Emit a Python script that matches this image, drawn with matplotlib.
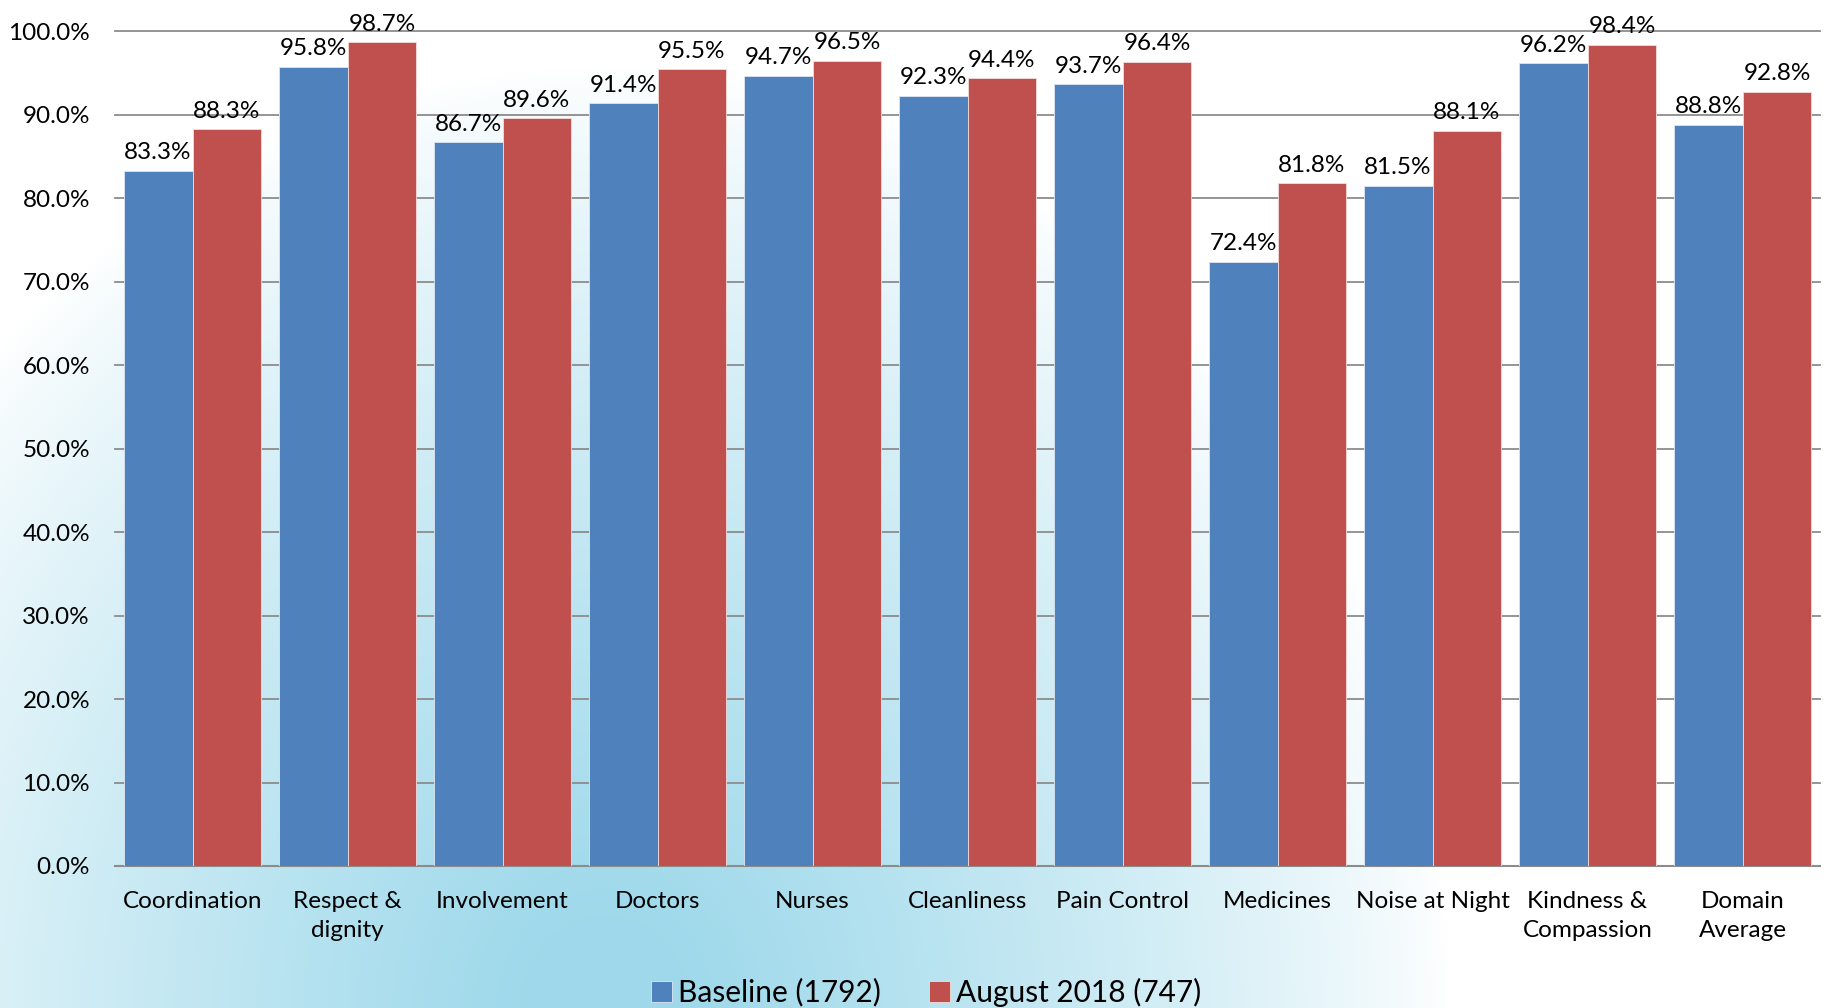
import matplotlib
matplotlib.use('Agg')
import matplotlib.pyplot as plt
import numpy as np

categories = ['Coordination', 'Respect &\ndignity', 'Involvement', 'Doctors', 'Nurses',
              'Cleanliness', 'Pain Control', 'Medicines', 'Noise at Night',
              'Kindness &\nCompassion', 'Domain\nAverage']
baseline = [83.3, 95.8, 86.7, 91.4, 94.7, 92.3, 93.7, 72.4, 81.5, 96.2, 88.8]
august = [88.3, 98.7, 89.6, 95.5, 96.5, 94.4, 96.4, 81.8, 88.1, 98.4, 92.8]
series_names = ['Baseline (1792)', 'August 2018 (747)']

plt.rcParams['font.family'] = ['Lato', 'DejaVu Sans']

fig = plt.figure(figsize=(18.27, 10.08), dpi=100)

# background wash: light blue at bottom left, fading to white top right
bg = fig.add_axes([0, 0, 1, 1], zorder=-10)
h, w = 252, 457
yy, xx = np.mgrid[0:h, 0:w]
d = np.sqrt(((xx - 0.33 * w) / (0.42 * w)) ** 2 + ((yy - h) / (0.85 * h)) ** 2)
t = np.clip(1.1 - d, 0, 1) ** 0.8
white = np.array([1.0, 1.0, 1.0])
blue = np.array([0.62, 0.85, 0.92])
img = white + (blue - white) * t[..., None]
bg.imshow(img, aspect='auto', extent=[0, 1, 0, 1], origin='upper')
bg.axis('off')

ax = fig.add_axes([115 / 1827, 1 - 866 / 1008, (1820 - 115) / 1827, (866 - 31.5) / 1008])
ax.patch.set_alpha(0)

x = np.arange(len(categories))
bw = 0.445
b1 = ax.bar(x - bw / 2, baseline, bw, color='#4f81bd', edgecolor='#dce6f2', linewidth=0.6,
            label=series_names[0], zorder=3)
b2 = ax.bar(x + bw / 2, august, bw, color='#c0504d', edgecolor='#f2dcdb', linewidth=0.6,
            label=series_names[1], zorder=3)

for bars, vals in ((b1, baseline), (b2, august)):
    for r, v in zip(bars, vals):
        ax.text(r.get_x() + r.get_width() / 2, v + 0.9, f'{v:.1f}%', ha='center', va='bottom',
                fontsize=17.5, color='black', zorder=4, clip_on=False)

ax.set_xlim(-0.5, len(categories) - 0.5)
ax.set_ylim(0, 100)
ax.set_yticks(np.arange(0, 101, 10))
ax.set_yticklabels([f'{v:.1f}%' for v in np.arange(0, 101, 10)], fontsize=17.5)
ax.set_xticks(x)
ax.set_xticklabels(categories, fontsize=17.5, linespacing=1.45)
ax.tick_params(axis='both', length=0)
ax.tick_params(axis='x', pad=18)
ax.tick_params(axis='y', pad=18)
ax.yaxis.grid(True, color='#8c8c8c', linewidth=1.3, zorder=0)
for gl in ax.get_ygridlines():
    gl.set_clip_on(False)
for s in ['top', 'right', 'left']:
    ax.spines[s].set_visible(False)
ax.spines['bottom'].set_color('#8c8c8c')
ax.spines['bottom'].set_linewidth(1.5)

ax.legend(loc='center', bbox_to_anchor=(926 / 1827, 1 - 992 / 1008), bbox_transform=fig.transFigure,
          ncol=2, frameon=False, fontsize=21.5, handlelength=0.7, handleheight=0.7,
          handletextpad=0.2, columnspacing=1.6)

fig.savefig('out.png', dpi=100)
